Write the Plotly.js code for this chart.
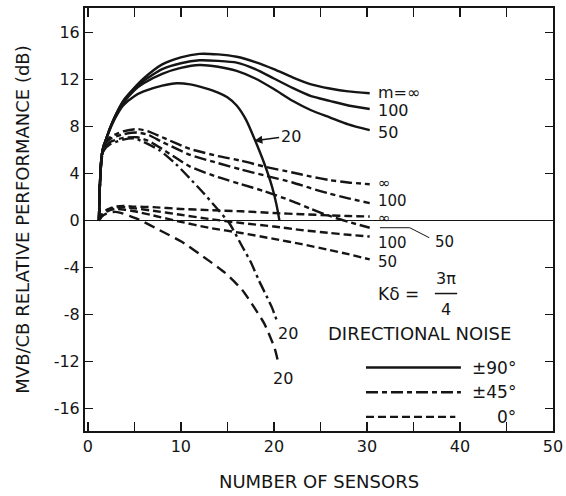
<!DOCTYPE html>
<html>
<head>
<meta charset="utf-8">
<script src="https://cdn.plot.ly/plotly-3.0.1.min.js"></script>
<style>html,body{margin:0;padding:0;background:#fff;}#chart{width:566px;height:496px;}</style>
</head>
<body>
<div id="chart"></div>
<script>
// ---- Data ----
// ±90° directional noise (solid)
var xSolid = [1.2,1.3,1.45,1.65,2,2.4,3,3.8,5,6,8,10,12,14,16,18,20,22,24,26,28,30.3];
var solidInf = [0,3,5.2,6.2,7.0,7.9,9.0,10.2,11.3,12.1,13.3,13.9,14.2,14.15,13.95,13.5,12.9,12.2,11.6,11.25,11.0,10.85];
var solid100 = [0,3,5.2,6.2,7.0,7.9,9.0,10.1,11.2,11.9,12.9,13.4,13.65,13.6,13.45,12.9,12.1,11.3,10.6,10.2,9.8,9.5];
var solid50  = [0,3,5.2,6.2,7.0,7.9,8.95,10.0,11.1,11.7,12.5,13.0,13.25,13.1,12.75,12.1,11.2,10.2,9.4,8.8,8.2,7.7];
var xSolid20 = [1.2,1.3,1.45,1.65,2,2.4,3,3.8,5,6,8,9.6,11,12.5,14,15,16,17,18,19,19.8,20.3,20.6];
var solid20  = [0,3,5.2,6.2,7.0,7.8,8.8,9.8,10.6,11.0,11.5,11.7,11.6,11.3,10.9,10.5,9.8,8.6,6.8,4.8,2.9,1.3,0];

// ±45° directional noise (dash-dot)
var x45 = [1.2,1.3,1.5,1.75,2.4,3.8,5.3,6.5,8,11,14,16.5,19,22,24,26,28,30.3];
var d45Inf = [0,3,5.5,6.5,7.1,7.6,7.8,7.6,7.1,6.1,5.5,5.1,4.6,4.1,3.75,3.45,3.25,3.1];
var d45_100 = [0,3,5.5,6.4,6.95,7.35,7.5,7.3,6.7,5.6,4.9,4.35,3.85,3.25,2.75,2.3,1.9,1.5];
var d45_50 = [0,3,5.4,6.2,6.7,7.05,7.1,6.8,6.1,4.6,3.7,3.1,2.5,1.65,1.0,0.4,-0.1,-0.6];
var x45_20 = [1.2,1.3,1.5,1.75,2.4,3.8,5,6,7.7,9.5,11.2,12.5,13.7,15.2,16.6,17.5,18.4,19.2,19.8,20.4];
var d45_20 = [0,3,5.3,6.0,6.5,6.9,7.0,6.7,6.0,4.8,3.4,2.3,1.2,-0.2,-2.2,-3.5,-5.1,-6.4,-7.4,-8.7];

// 0° directional noise (dashed)
var x0 = [1.2,1.5,2,2.4,3,3.8,5,7,10,13,16.5,20,23,26,28,30.3];
var d0Inf = [0,0.5,0.9,1.05,1.2,1.25,1.2,1.15,1.0,0.9,0.8,0.65,0.55,0.45,0.4,0.35];
var d0_100 = [0,0.45,0.85,1.0,1.1,1.15,1.05,0.85,0.5,0.15,-0.2,-0.5,-0.8,-1.05,-1.2,-1.35];
var d0_50 = [0,0.4,0.75,0.9,1.0,0.95,0.8,0.45,-0.1,-0.6,-1.05,-1.55,-2.0,-2.5,-2.85,-3.3];
var x0_20 = [1.2,1.5,2,2.4,3,3.8,4.5,5.5,7.7,10.1,13,14.7,16.6,17.9,19,20.1,20.5];
var d0_20 = [0,0.35,0.6,0.7,0.75,0.6,0.4,0.1,-0.8,-1.8,-3.4,-4.4,-5.9,-7.4,-8.8,-10.9,-12.2];

// Tick labels
var xTickVals = [0,10,20,30,40,50];
var xTickText = ['0','10','20','30','40','50'];
var yTickVals = [-16,-12,-8,-4,0,4,8,12,16];
var yTickText = ['-16','-12','-8','-4','0','4','8','12','16'];

// Legend entries
var legendNames = ['\u00B190\u00B0','\u00B145\u00B0','0\u00B0'];

// ---- Styles ----
var INK = '#151515';
var FONT = 'DejaVu Sans, sans-serif';
var DASH45 = '12px,4px,5px,4px';
var DASH0 = '8px,4px';
var DASH45_20 = '12px,4px,3px,4px';
var DASH0_20 = '11px,6px';

function tr(x, y, dash, w) {
  return {x: x, y: y, type: 'scatter', mode: 'lines', showlegend: false, hoverinfo: 'skip',
          line: {color: INK, width: w || 2.4, dash: dash, shape: 'spline', smoothing: 0.6}};
}

var data = [
  tr(xSolid, solidInf, 'solid'),
  tr(xSolid, solid100, 'solid'),
  tr(xSolid, solid50, 'solid'),
  tr(xSolid20, solid20, 'solid'),
  tr(x45, d45Inf, DASH45),
  tr(x45, d45_100, DASH45),
  tr(x45, d45_50, DASH45),
  tr(x45_20, d45_20, DASH45_20),
  tr(x0, d0Inf, DASH0),
  tr(x0, d0_100, DASH0),
  tr(x0, d0_50, DASH0),
  tr(x0_20, d0_20, DASH0_20)
];

function lab(text, x, y, anchor, size) {
  return {text: text, x: x, y: y, xref: 'x', yref: 'y', showarrow: false,
          xanchor: anchor || 'left', yanchor: 'middle', borderpad: 0,
          font: {family: FONT, size: size || 16, color: INK}};
}

var annotations = [
  lab('m=\u221E', 31.1, 10.9, 'left', 16),
  lab('100', 31.1, 9.4, 'left', 16),
  lab('50', 31.1, 7.5, 'left', 16),
  lab('\u221E', 31.1, 3.2, 'left', 15),
  lab('100', 31.1, 1.7, 'left', 15),
  lab('\u221E', 31.1, 0.25, 'left', 15),
  lab('100', 31.1, -1.9, 'left', 15),
  lab('50', 31.1, -3.5, 'left', 15),
  lab('50', 37.2, -1.8, 'left', 15),
  lab('20', 21.5, -9.6, 'center', 16),
  lab('20', 21.0, -13.4, 'center', 16),
  lab('DIRECTIONAL NOISE', 35.6, -9.6, 'center', 18),
  lab('K\u03B4 =', 31.1, -6.2, 'left', 17),
  lab('3\u03C0', 38.5, -4.9, 'center', 16),
  lab('4', 38.5, -7.6, 'center', 16),
  lab(legendNames[0], 46.1, -12.5, 'right', 17),
  lab(legendNames[1], 46.1, -14.6, 'right', 17),
  lab(legendNames[2], 46.1, -16.7, 'right', 17),
  {text: '20', x: 17.9, y: 6.8, ax: 21.8, ay: 7.2, xref: 'x', yref: 'y', axref: 'x', ayref: 'y',
   showarrow: true, arrowhead: 2, arrowsize: 1, arrowwidth: 1.6, arrowcolor: INK, standoff: 0,
   font: {family: FONT, size: 16, color: INK}}
];

var shapes = [
  // fraction bar
  {type: 'line', xref: 'x', yref: 'y', x0: 37.3, x1: 39.7, y0: -6.2, y1: -6.2, line: {color: INK, width: 1.5}},
  // leader for the ±45° "50" label
  {type: 'path', xref: 'x', yref: 'y', path: 'M 31.4 -0.6 L 34.6 -0.6 L 36.7 -1.45', line: {color: INK, width: 1}},
  // legend samples
  {type: 'line', xref: 'x', yref: 'y', x0: 29.9, x1: 40.1, y0: -12.5, y1: -12.5, line: {color: INK, width: 2.4, dash: 'solid'}},
  {type: 'line', xref: 'x', yref: 'y', x0: 29.9, x1: 40.1, y0: -14.6, y1: -14.6, line: {color: INK, width: 2.4, dash: DASH45}},
  {type: 'line', xref: 'x', yref: 'y', x0: 29.9, x1: 39.5, y0: -16.7, y1: -16.7, line: {color: INK, width: 2.4, dash: DASH0}}
];

var layout = {
  width: 566, height: 496,
  margin: {l: 85, r: 13, t: 8, b: 65},
  paper_bgcolor: '#fff', plot_bgcolor: '#fff',
  showlegend: false,
  font: {family: FONT, size: 16, color: INK},
  xaxis: {
    range: [-0.3, 50], tickvals: xTickVals, ticktext: xTickText,
    ticks: 'inside', ticklen: 9, tickwidth: 1.5, tickcolor: INK,
    minor: {dtick: 5, tick0: 0, ticks: 'inside', ticklen: 9, tickwidth: 1.5, tickcolor: INK, showgrid: false},
    showline: true, linecolor: INK, linewidth: 2, mirror: 'allticks',
    showgrid: false, zeroline: false,
    tickfont: {family: FONT, size: 16, color: INK},
    title: {text: 'NUMBER OF SENSORS', font: {family: FONT, size: 18, color: INK}, standoff: 20}
  },
  yaxis: {
    range: [-17.9, 18.1], tickvals: yTickVals, ticktext: yTickText,
    ticks: 'inside', ticklen: 8, tickwidth: 1.5, tickcolor: INK,
    showline: true, linecolor: INK, linewidth: 2, mirror: 'ticks',
    showgrid: false, zeroline: true, zerolinecolor: INK, zerolinewidth: 1.3,
    tickfont: {family: FONT, size: 16, color: INK},
    title: {text: 'MVB/CB RELATIVE PERFORMANCE (dB)', font: {family: FONT, size: 18, color: INK}, standoff: 19}
  },
  annotations: annotations,
  shapes: shapes
};

Plotly.newPlot('chart', data, layout, {displayModeBar: false, staticPlot: true});
</script>
</body>
</html>
